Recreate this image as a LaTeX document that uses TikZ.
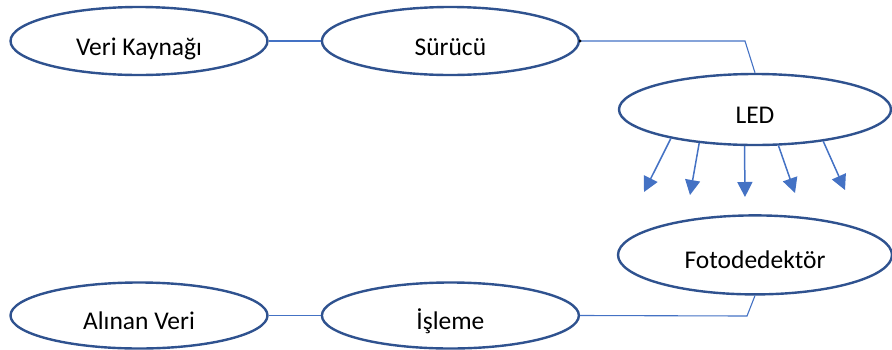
\documentclass[tikz,border=0pt]{standalone}
\usepackage{fontspec}
\setmainfont{Carlito}
\usepackage{tikz}
\usetikzlibrary{positioning,arrows.meta,shapes.geometric}
\definecolor{wdBorder}{RGB}{47,82,143}
\definecolor{wdLine}{RGB}{68,114,196}

\begin{document}
\begin{tikzpicture}[
  x=1pt, y=-1pt,
  font=\fontsize{25.5pt}{30pt}\selectfont,
  oval/.style={ellipse, draw=wdBorder, line width=2.4pt, fill=white, inner sep=0pt,
               text height=28pt, text depth=0pt, minimum width=257pt, minimum height=68pt},
  link/.style={draw=wdLine, line width=1.1pt},
  ray/.style={draw=wdLine, line width=1.5pt, -{Triangle[length=15pt,width=15pt]}},
]
\useasboundingbox (0,0) rectangle (892,349);
% sender side
\node[oval] (vk) at (139,41) {Veri Kaynağı};
\node[oval, right=52pt of vk] (sr) {Sürücü};
\node[oval, minimum width=272pt, minimum height=71pt] (led) at (755,109.5) {LED};
\coordinate (bend1) at (745,41);
\draw[link] (vk.east) -- (sr.west);
\draw[link] (sr.east) -- (bend1) -- (led.north);
\fill (sr.east) circle (1.6pt);
% light rays
\foreach \ang/\tx/\ty [count=\i] in {199/644/192, 211.3/690/195, 254.3/745/197, 303.3/795/193, 335.7/845/190} {
  \coordinate (tip\i) at (\tx,\ty);
  \draw[ray] (led.\ang) -- (tip\i);
}
% receiver side
\node[oval, minimum width=274pt, minimum height=79pt, below=68pt of led] (fd) {Fotodedektör};
\node[oval, minimum height=66pt] (av) at (139,315.5) {Alınan Veri};
\node[oval, minimum height=66pt, right=52pt of av] (is) {İşleme};
\coordinate (bend2) at (747,316);
\draw[link] (av.east) -- (is.west);
\draw[link] (fd.south) -- (bend2) -- (is.east);
\end{tikzpicture}
\end{document}
